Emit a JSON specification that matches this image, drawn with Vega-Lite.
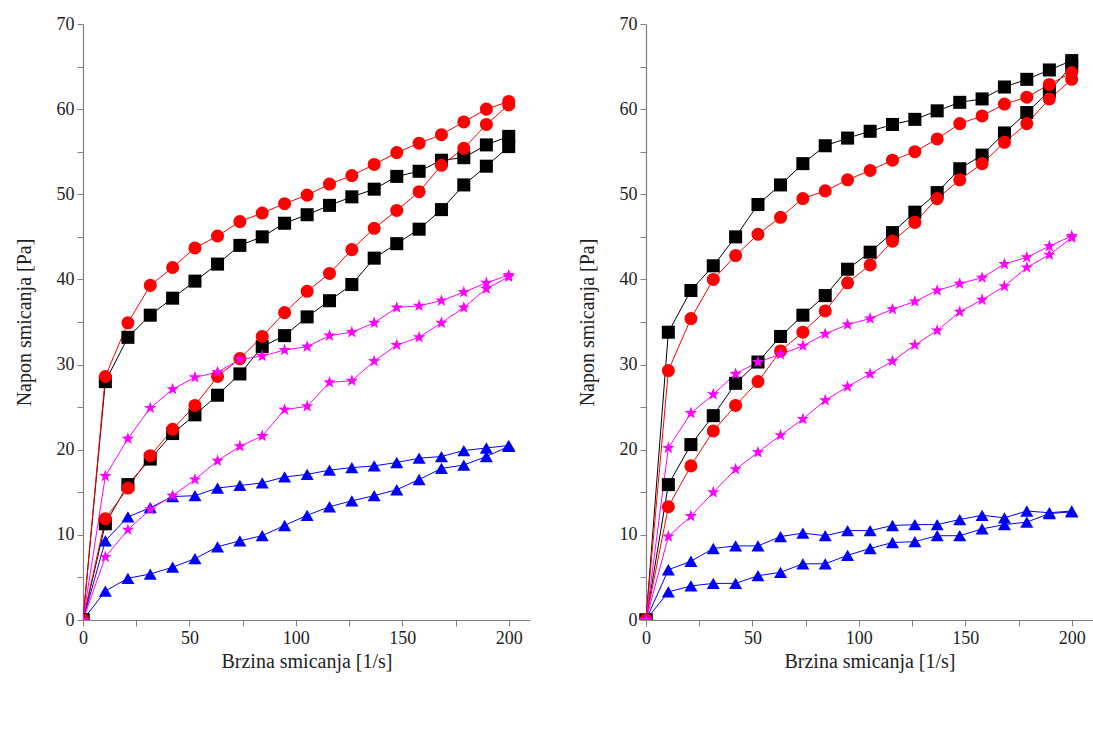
{
  "$schema": "https://vega.github.io/schema/vega-lite/v6.json",
  "autosize": {"type": "none"},
  "width": 1010,
  "height": 596,
  "padding": {"left": 83, "top": 24, "right": 0, "bottom": 109},
  "background": "white",
  "config": {
    "view": {"stroke": null},
    "axis": {"grid": false, "domainColor": "#808080", "tickColor": "#808080", "domainWidth": 1.2, "tickWidth": 1, "tickSize": 6, "labelFont": "Liberation Serif", "titleFont": "Liberation Serif", "labelFontSize": 18, "titleFontSize": 20, "titleFontWeight": "normal", "labelColor": "#222222", "titleColor": "#222222", "labelOverlap": false, "labelFlush": false}
  },
  "datasets": {
    "pa": [
      {"series":"F1","branch":"u","rate":0,"stress":0},{"series":"F1","branch":"u","rate":10.5,"stress":28},{"series":"F1","branch":"u","rate":21.1,"stress":33.2},{"series":"F1","branch":"u","rate":31.6,"stress":35.8},{"series":"F1","branch":"u","rate":42.1,"stress":37.8},{"series":"F1","branch":"u","rate":52.6,"stress":39.8},{"series":"F1","branch":"u","rate":63.2,"stress":41.8},{"series":"F1","branch":"u","rate":73.7,"stress":44},{"series":"F1","branch":"u","rate":84.2,"stress":45},{"series":"F1","branch":"u","rate":94.7,"stress":46.6},{"series":"F1","branch":"u","rate":105.3,"stress":47.6},{"series":"F1","branch":"u","rate":115.8,"stress":48.7},{"series":"F1","branch":"u","rate":126.3,"stress":49.7},{"series":"F1","branch":"u","rate":136.8,"stress":50.6},{"series":"F1","branch":"u","rate":147.4,"stress":52.1},{"series":"F1","branch":"u","rate":157.9,"stress":52.7},{"series":"F1","branch":"u","rate":168.4,"stress":54},{"series":"F1","branch":"u","rate":178.9,"stress":54.3},{"series":"F1","branch":"u","rate":189.5,"stress":55.8},{"series":"F1","branch":"u","rate":200,"stress":56.8},
      {"series":"F1","branch":"d","rate":0,"stress":0},{"series":"F1","branch":"d","rate":10.5,"stress":11.3},{"series":"F1","branch":"d","rate":21.1,"stress":15.9},{"series":"F1","branch":"d","rate":31.6,"stress":18.9},{"series":"F1","branch":"d","rate":42.1,"stress":21.9},{"series":"F1","branch":"d","rate":52.6,"stress":24.1},{"series":"F1","branch":"d","rate":63.2,"stress":26.4},{"series":"F1","branch":"d","rate":73.7,"stress":28.9},{"series":"F1","branch":"d","rate":84.2,"stress":32.1},{"series":"F1","branch":"d","rate":94.7,"stress":33.4},{"series":"F1","branch":"d","rate":105.3,"stress":35.6},{"series":"F1","branch":"d","rate":115.8,"stress":37.5},{"series":"F1","branch":"d","rate":126.3,"stress":39.4},{"series":"F1","branch":"d","rate":136.8,"stress":42.5},{"series":"F1","branch":"d","rate":147.4,"stress":44.2},{"series":"F1","branch":"d","rate":157.9,"stress":45.9},{"series":"F1","branch":"d","rate":168.4,"stress":48.2},{"series":"F1","branch":"d","rate":178.9,"stress":51.1},{"series":"F1","branch":"d","rate":189.5,"stress":53.3},{"series":"F1","branch":"d","rate":200,"stress":55.6},
      {"series":"F7","branch":"u","rate":0,"stress":0},{"series":"F7","branch":"u","rate":10.5,"stress":28.6},{"series":"F7","branch":"u","rate":21.1,"stress":34.9},{"series":"F7","branch":"u","rate":31.6,"stress":39.3},{"series":"F7","branch":"u","rate":42.1,"stress":41.4},{"series":"F7","branch":"u","rate":52.6,"stress":43.7},{"series":"F7","branch":"u","rate":63.2,"stress":45.1},{"series":"F7","branch":"u","rate":73.7,"stress":46.8},{"series":"F7","branch":"u","rate":84.2,"stress":47.8},{"series":"F7","branch":"u","rate":94.7,"stress":48.9},{"series":"F7","branch":"u","rate":105.3,"stress":49.9},{"series":"F7","branch":"u","rate":115.8,"stress":51.2},{"series":"F7","branch":"u","rate":126.3,"stress":52.2},{"series":"F7","branch":"u","rate":136.8,"stress":53.5},{"series":"F7","branch":"u","rate":147.4,"stress":54.9},{"series":"F7","branch":"u","rate":157.9,"stress":56},{"series":"F7","branch":"u","rate":168.4,"stress":57},{"series":"F7","branch":"u","rate":178.9,"stress":58.5},{"series":"F7","branch":"u","rate":189.5,"stress":60},{"series":"F7","branch":"u","rate":200,"stress":60.9},
      {"series":"F7","branch":"d","rate":0,"stress":0},{"series":"F7","branch":"d","rate":10.5,"stress":11.9},{"series":"F7","branch":"d","rate":21.1,"stress":15.5},{"series":"F7","branch":"d","rate":31.6,"stress":19.3},{"series":"F7","branch":"d","rate":42.1,"stress":22.4},{"series":"F7","branch":"d","rate":52.6,"stress":25.2},{"series":"F7","branch":"d","rate":63.2,"stress":28.6},{"series":"F7","branch":"d","rate":73.7,"stress":30.7},{"series":"F7","branch":"d","rate":84.2,"stress":33.3},{"series":"F7","branch":"d","rate":94.7,"stress":36.1},{"series":"F7","branch":"d","rate":105.3,"stress":38.6},{"series":"F7","branch":"d","rate":115.8,"stress":40.7},{"series":"F7","branch":"d","rate":126.3,"stress":43.5},{"series":"F7","branch":"d","rate":136.8,"stress":46},{"series":"F7","branch":"d","rate":147.4,"stress":48.1},{"series":"F7","branch":"d","rate":157.9,"stress":50.3},{"series":"F7","branch":"d","rate":168.4,"stress":53.4},{"series":"F7","branch":"d","rate":178.9,"stress":55.4},{"series":"F7","branch":"d","rate":189.5,"stress":58.2},{"series":"F7","branch":"d","rate":200,"stress":60.5},
      {"series":"F8","branch":"u","rate":0,"stress":0},{"series":"F8","branch":"u","rate":10.5,"stress":9.3},{"series":"F8","branch":"u","rate":21.1,"stress":12.1},{"series":"F8","branch":"u","rate":31.6,"stress":13.2},{"series":"F8","branch":"u","rate":42.1,"stress":14.5},{"series":"F8","branch":"u","rate":52.6,"stress":14.6},{"series":"F8","branch":"u","rate":63.2,"stress":15.5},{"series":"F8","branch":"u","rate":73.7,"stress":15.8},{"series":"F8","branch":"u","rate":84.2,"stress":16.1},{"series":"F8","branch":"u","rate":94.7,"stress":16.8},{"series":"F8","branch":"u","rate":105.3,"stress":17.1},{"series":"F8","branch":"u","rate":115.8,"stress":17.6},{"series":"F8","branch":"u","rate":126.3,"stress":17.9},{"series":"F8","branch":"u","rate":136.8,"stress":18.1},{"series":"F8","branch":"u","rate":147.4,"stress":18.5},{"series":"F8","branch":"u","rate":157.9,"stress":19},{"series":"F8","branch":"u","rate":168.4,"stress":19.2},{"series":"F8","branch":"u","rate":178.9,"stress":19.9},{"series":"F8","branch":"u","rate":189.5,"stress":20.2},{"series":"F8","branch":"u","rate":200,"stress":20.5},
      {"series":"F8","branch":"d","rate":0,"stress":0},{"series":"F8","branch":"d","rate":10.5,"stress":3.4},{"series":"F8","branch":"d","rate":21.1,"stress":4.9},{"series":"F8","branch":"d","rate":31.6,"stress":5.4},{"series":"F8","branch":"d","rate":42.1,"stress":6.2},{"series":"F8","branch":"d","rate":52.6,"stress":7.2},{"series":"F8","branch":"d","rate":63.2,"stress":8.6},{"series":"F8","branch":"d","rate":73.7,"stress":9.3},{"series":"F8","branch":"d","rate":84.2,"stress":9.9},{"series":"F8","branch":"d","rate":94.7,"stress":11.1},{"series":"F8","branch":"d","rate":105.3,"stress":12.3},{"series":"F8","branch":"d","rate":115.8,"stress":13.3},{"series":"F8","branch":"d","rate":126.3,"stress":14},{"series":"F8","branch":"d","rate":136.8,"stress":14.6},{"series":"F8","branch":"d","rate":147.4,"stress":15.3},{"series":"F8","branch":"d","rate":157.9,"stress":16.5},{"series":"F8","branch":"d","rate":168.4,"stress":17.8},{"series":"F8","branch":"d","rate":178.9,"stress":18.2},{"series":"F8","branch":"d","rate":189.5,"stress":19.2},{"series":"F8","branch":"d","rate":200,"stress":20.4},
      {"series":"F9","branch":"u","rate":0,"stress":0},{"series":"F9","branch":"u","rate":10.5,"stress":16.9},{"series":"F9","branch":"u","rate":21.1,"stress":21.3},{"series":"F9","branch":"u","rate":31.6,"stress":24.9},{"series":"F9","branch":"u","rate":42.1,"stress":27.1},{"series":"F9","branch":"u","rate":52.6,"stress":28.5},{"series":"F9","branch":"u","rate":63.2,"stress":29.1},{"series":"F9","branch":"u","rate":73.7,"stress":30.6},{"series":"F9","branch":"u","rate":84.2,"stress":31},{"series":"F9","branch":"u","rate":94.7,"stress":31.7},{"series":"F9","branch":"u","rate":105.3,"stress":32.1},{"series":"F9","branch":"u","rate":115.8,"stress":33.4},{"series":"F9","branch":"u","rate":126.3,"stress":33.8},{"series":"F9","branch":"u","rate":136.8,"stress":34.9},{"series":"F9","branch":"u","rate":147.4,"stress":36.7},{"series":"F9","branch":"u","rate":157.9,"stress":36.9},{"series":"F9","branch":"u","rate":168.4,"stress":37.5},{"series":"F9","branch":"u","rate":178.9,"stress":38.5},{"series":"F9","branch":"u","rate":189.5,"stress":39.6},{"series":"F9","branch":"u","rate":200,"stress":40.5},
      {"series":"F9","branch":"d","rate":0,"stress":0},{"series":"F9","branch":"d","rate":10.5,"stress":7.4},{"series":"F9","branch":"d","rate":21.1,"stress":10.6},{"series":"F9","branch":"d","rate":31.6,"stress":13},{"series":"F9","branch":"d","rate":42.1,"stress":14.6},{"series":"F9","branch":"d","rate":52.6,"stress":16.5},{"series":"F9","branch":"d","rate":63.2,"stress":18.7},{"series":"F9","branch":"d","rate":73.7,"stress":20.4},{"series":"F9","branch":"d","rate":84.2,"stress":21.6},{"series":"F9","branch":"d","rate":94.7,"stress":24.7},{"series":"F9","branch":"d","rate":105.3,"stress":25.1},{"series":"F9","branch":"d","rate":115.8,"stress":27.9},{"series":"F9","branch":"d","rate":126.3,"stress":28.1},{"series":"F9","branch":"d","rate":136.8,"stress":30.4},{"series":"F9","branch":"d","rate":147.4,"stress":32.3},{"series":"F9","branch":"d","rate":157.9,"stress":33.2},{"series":"F9","branch":"d","rate":168.4,"stress":34.9},{"series":"F9","branch":"d","rate":178.9,"stress":36.7},{"series":"F9","branch":"d","rate":189.5,"stress":38.9},{"series":"F9","branch":"d","rate":200,"stress":40.3}
    ],
    "pb": [
      {"series":"F1","branch":"u","rate":0,"stress":0},{"series":"F1","branch":"u","rate":10.5,"stress":33.8},{"series":"F1","branch":"u","rate":21.1,"stress":38.7},{"series":"F1","branch":"u","rate":31.6,"stress":41.6},{"series":"F1","branch":"u","rate":42.1,"stress":45},{"series":"F1","branch":"u","rate":52.6,"stress":48.8},{"series":"F1","branch":"u","rate":63.2,"stress":51.1},{"series":"F1","branch":"u","rate":73.7,"stress":53.6},{"series":"F1","branch":"u","rate":84.2,"stress":55.7},{"series":"F1","branch":"u","rate":94.7,"stress":56.6},{"series":"F1","branch":"u","rate":105.3,"stress":57.4},{"series":"F1","branch":"u","rate":115.8,"stress":58.2},{"series":"F1","branch":"u","rate":126.3,"stress":58.8},{"series":"F1","branch":"u","rate":136.8,"stress":59.8},{"series":"F1","branch":"u","rate":147.4,"stress":60.8},{"series":"F1","branch":"u","rate":157.9,"stress":61.2},{"series":"F1","branch":"u","rate":168.4,"stress":62.6},{"series":"F1","branch":"u","rate":178.9,"stress":63.5},{"series":"F1","branch":"u","rate":189.5,"stress":64.6},{"series":"F1","branch":"u","rate":200,"stress":65.7},
      {"series":"F1","branch":"d","rate":0,"stress":0},{"series":"F1","branch":"d","rate":10.5,"stress":15.9},{"series":"F1","branch":"d","rate":21.1,"stress":20.6},{"series":"F1","branch":"d","rate":31.6,"stress":24},{"series":"F1","branch":"d","rate":42.1,"stress":27.8},{"series":"F1","branch":"d","rate":52.6,"stress":30.3},{"series":"F1","branch":"d","rate":63.2,"stress":33.3},{"series":"F1","branch":"d","rate":73.7,"stress":35.8},{"series":"F1","branch":"d","rate":84.2,"stress":38.1},{"series":"F1","branch":"d","rate":94.7,"stress":41.2},{"series":"F1","branch":"d","rate":105.3,"stress":43.2},{"series":"F1","branch":"d","rate":115.8,"stress":45.5},{"series":"F1","branch":"d","rate":126.3,"stress":47.9},{"series":"F1","branch":"d","rate":136.8,"stress":50.2},{"series":"F1","branch":"d","rate":147.4,"stress":53},{"series":"F1","branch":"d","rate":157.9,"stress":54.6},{"series":"F1","branch":"d","rate":168.4,"stress":57.2},{"series":"F1","branch":"d","rate":178.9,"stress":59.6},{"series":"F1","branch":"d","rate":189.5,"stress":62.1},{"series":"F1","branch":"d","rate":200,"stress":65.1},
      {"series":"F7","branch":"u","rate":0,"stress":0},{"series":"F7","branch":"u","rate":10.5,"stress":29.3},{"series":"F7","branch":"u","rate":21.1,"stress":35.4},{"series":"F7","branch":"u","rate":31.6,"stress":40},{"series":"F7","branch":"u","rate":42.1,"stress":42.8},{"series":"F7","branch":"u","rate":52.6,"stress":45.3},{"series":"F7","branch":"u","rate":63.2,"stress":47.3},{"series":"F7","branch":"u","rate":73.7,"stress":49.5},{"series":"F7","branch":"u","rate":84.2,"stress":50.4},{"series":"F7","branch":"u","rate":94.7,"stress":51.7},{"series":"F7","branch":"u","rate":105.3,"stress":52.8},{"series":"F7","branch":"u","rate":115.8,"stress":54},{"series":"F7","branch":"u","rate":126.3,"stress":55},{"series":"F7","branch":"u","rate":136.8,"stress":56.5},{"series":"F7","branch":"u","rate":147.4,"stress":58.3},{"series":"F7","branch":"u","rate":157.9,"stress":59.2},{"series":"F7","branch":"u","rate":168.4,"stress":60.6},{"series":"F7","branch":"u","rate":178.9,"stress":61.4},{"series":"F7","branch":"u","rate":189.5,"stress":62.9},{"series":"F7","branch":"u","rate":200,"stress":64.3},
      {"series":"F7","branch":"d","rate":0,"stress":0},{"series":"F7","branch":"d","rate":10.5,"stress":13.3},{"series":"F7","branch":"d","rate":21.1,"stress":18.1},{"series":"F7","branch":"d","rate":31.6,"stress":22.2},{"series":"F7","branch":"d","rate":42.1,"stress":25.2},{"series":"F7","branch":"d","rate":52.6,"stress":28},{"series":"F7","branch":"d","rate":63.2,"stress":31.6},{"series":"F7","branch":"d","rate":73.7,"stress":33.8},{"series":"F7","branch":"d","rate":84.2,"stress":36.3},{"series":"F7","branch":"d","rate":94.7,"stress":39.6},{"series":"F7","branch":"d","rate":105.3,"stress":41.7},{"series":"F7","branch":"d","rate":115.8,"stress":44.5},{"series":"F7","branch":"d","rate":126.3,"stress":46.7},{"series":"F7","branch":"d","rate":136.8,"stress":49.5},{"series":"F7","branch":"d","rate":147.4,"stress":51.7},{"series":"F7","branch":"d","rate":157.9,"stress":53.6},{"series":"F7","branch":"d","rate":168.4,"stress":56.1},{"series":"F7","branch":"d","rate":178.9,"stress":58.3},{"series":"F7","branch":"d","rate":189.5,"stress":61.2},{"series":"F7","branch":"d","rate":200,"stress":63.5},
      {"series":"F8","branch":"u","rate":0,"stress":0},{"series":"F8","branch":"u","rate":10.5,"stress":5.9},{"series":"F8","branch":"u","rate":21.1,"stress":6.9},{"series":"F8","branch":"u","rate":31.6,"stress":8.4},{"series":"F8","branch":"u","rate":42.1,"stress":8.7},{"series":"F8","branch":"u","rate":52.6,"stress":8.7},{"series":"F8","branch":"u","rate":63.2,"stress":9.8},{"series":"F8","branch":"u","rate":73.7,"stress":10.2},{"series":"F8","branch":"u","rate":84.2,"stress":9.9},{"series":"F8","branch":"u","rate":94.7,"stress":10.5},{"series":"F8","branch":"u","rate":105.3,"stress":10.5},{"series":"F8","branch":"u","rate":115.8,"stress":11.1},{"series":"F8","branch":"u","rate":126.3,"stress":11.2},{"series":"F8","branch":"u","rate":136.8,"stress":11.2},{"series":"F8","branch":"u","rate":147.4,"stress":11.8},{"series":"F8","branch":"u","rate":157.9,"stress":12.3},{"series":"F8","branch":"u","rate":168.4,"stress":12},{"series":"F8","branch":"u","rate":178.9,"stress":12.8},{"series":"F8","branch":"u","rate":189.5,"stress":12.6},{"series":"F8","branch":"u","rate":200,"stress":12.8},
      {"series":"F8","branch":"d","rate":0,"stress":0},{"series":"F8","branch":"d","rate":10.5,"stress":3.3},{"series":"F8","branch":"d","rate":21.1,"stress":4},{"series":"F8","branch":"d","rate":31.6,"stress":4.3},{"series":"F8","branch":"d","rate":42.1,"stress":4.3},{"series":"F8","branch":"d","rate":52.6,"stress":5.2},{"series":"F8","branch":"d","rate":63.2,"stress":5.6},{"series":"F8","branch":"d","rate":73.7,"stress":6.6},{"series":"F8","branch":"d","rate":84.2,"stress":6.6},{"series":"F8","branch":"d","rate":94.7,"stress":7.6},{"series":"F8","branch":"d","rate":105.3,"stress":8.4},{"series":"F8","branch":"d","rate":115.8,"stress":9.1},{"series":"F8","branch":"d","rate":126.3,"stress":9.2},{"series":"F8","branch":"d","rate":136.8,"stress":9.9},{"series":"F8","branch":"d","rate":147.4,"stress":9.9},{"series":"F8","branch":"d","rate":157.9,"stress":10.7},{"series":"F8","branch":"d","rate":168.4,"stress":11.2},{"series":"F8","branch":"d","rate":178.9,"stress":11.5},{"series":"F8","branch":"d","rate":189.5,"stress":12.5},{"series":"F8","branch":"d","rate":200,"stress":12.7},
      {"series":"F9","branch":"u","rate":0,"stress":0},{"series":"F9","branch":"u","rate":10.5,"stress":20.2},{"series":"F9","branch":"u","rate":21.1,"stress":24.3},{"series":"F9","branch":"u","rate":31.6,"stress":26.5},{"series":"F9","branch":"u","rate":42.1,"stress":28.9},{"series":"F9","branch":"u","rate":52.6,"stress":30.3},{"series":"F9","branch":"u","rate":63.2,"stress":31.2},{"series":"F9","branch":"u","rate":73.7,"stress":32.2},{"series":"F9","branch":"u","rate":84.2,"stress":33.6},{"series":"F9","branch":"u","rate":94.7,"stress":34.7},{"series":"F9","branch":"u","rate":105.3,"stress":35.4},{"series":"F9","branch":"u","rate":115.8,"stress":36.5},{"series":"F9","branch":"u","rate":126.3,"stress":37.4},{"series":"F9","branch":"u","rate":136.8,"stress":38.7},{"series":"F9","branch":"u","rate":147.4,"stress":39.5},{"series":"F9","branch":"u","rate":157.9,"stress":40.2},{"series":"F9","branch":"u","rate":168.4,"stress":41.8},{"series":"F9","branch":"u","rate":178.9,"stress":42.6},{"series":"F9","branch":"u","rate":189.5,"stress":43.9},{"series":"F9","branch":"u","rate":200,"stress":45.1},
      {"series":"F9","branch":"d","rate":0,"stress":0},{"series":"F9","branch":"d","rate":10.5,"stress":9.8},{"series":"F9","branch":"d","rate":21.1,"stress":12.2},{"series":"F9","branch":"d","rate":31.6,"stress":15},{"series":"F9","branch":"d","rate":42.1,"stress":17.7},{"series":"F9","branch":"d","rate":52.6,"stress":19.7},{"series":"F9","branch":"d","rate":63.2,"stress":21.7},{"series":"F9","branch":"d","rate":73.7,"stress":23.6},{"series":"F9","branch":"d","rate":84.2,"stress":25.8},{"series":"F9","branch":"d","rate":94.7,"stress":27.4},{"series":"F9","branch":"d","rate":105.3,"stress":28.9},{"series":"F9","branch":"d","rate":115.8,"stress":30.4},{"series":"F9","branch":"d","rate":126.3,"stress":32.3},{"series":"F9","branch":"d","rate":136.8,"stress":34},{"series":"F9","branch":"d","rate":147.4,"stress":36.2},{"series":"F9","branch":"d","rate":157.9,"stress":37.6},{"series":"F9","branch":"d","rate":168.4,"stress":39.2},{"series":"F9","branch":"d","rate":178.9,"stress":41.4},{"series":"F9","branch":"d","rate":189.5,"stress":42.9},{"series":"F9","branch":"d","rate":200,"stress":44.9}
    ]
  },
  "layer": [
    {
      "data": {"name": "pa"},
      "encoding": {
        "x": {"field": "rate", "type": "quantitative", "scale": {"domain": [0, 210], "range": [0, 447], "nice": false, "zero": false},
          "axis": {"orient": "bottom", "title": "Brzina smicanja [1/s]", "values": [0,25,50,75,100,125,150,175,200], "labelExpr": "datum.value % 50 === 0 ? datum.label : ''", "labelPadding": 3, "titlePadding": 4}},
        "y": {"field": "stress", "type": "quantitative", "scale": {"domain": [0, 70], "nice": false},
          "axis": {"orient": "left", "title": "Napon smicanja [Pa]", "values": [0,5,10,15,20,25,30,35,40,45,50,55,60,65,70], "labelExpr": "datum.value % 10 === 0 ? datum.label : ''", "labelPadding": 3, "titlePadding": 22}}
      },
      "layer": [
        {"mark": {"type": "line", "strokeWidth": 1, "clip": true},
         "encoding": {
           "color": {"field": "series", "type": "nominal", "scale": {"domain": ["F1","F7","F8","F9"], "range": ["#000000","#FF0000","#0000FF","#FF00FF"]}, "legend": null},
           "detail": {"field": "branch", "type": "nominal"}, "order": {"field": "rate", "type": "quantitative"}}},
        {"mark": {"type": "point", "filled": true, "size": 170, "opacity": 1, "strokeWidth": 0, "clip": true},
         "encoding": {
           "color": {"field": "series", "type": "nominal", "scale": {"domain": ["F1","F7","F8","F9"], "range": ["#000000","#FF0000","#0000FF","#FF00FF"]},
             "legend": {"title": "a)", "orient": "none", "legendX": -66, "legendY": 665, "direction": "horizontal", "titleOrient": "left", "titleAnchor": "middle", "titleBaseline": "middle", "titleFontSize": 28, "titleFont": "Liberation Serif", "titleFontWeight": "normal", "titleColor": "#222222", "titlePadding": 98, "labelFontSize": 18, "labelFont": "Liberation Serif", "labelColor": "#222222", "labelOffset": 3, "columnPadding": 10, "symbolSize": 2116, "symbolStrokeWidth": 0, "padding": 0,
               "encode": {"symbols": {"update": {"size": {"value": 2116}, "shape": {"signal": "datum.value === 'F1' ? 'M-1,-0.025H1V0.025H-1Z M-0.18,-0.18H0.18V0.18H-0.18Z' : datum.value === 'F7' ? 'M-1,-0.025H1V0.025H-1Z M-0.2,0A0.2,0.2 0 1,0 0.2,0A0.2,0.2 0 1,0 -0.2,0Z' : datum.value === 'F8' ? 'M-1,-0.025H1V0.025H-1Z M0,-0.22L0.24,0.18H-0.24Z' : 'M-1,-0.025H1V0.025H-1Z M0,-0.24L0.056,-0.078L0.228,-0.074L0.091,0.03L0.141,0.194L0,0.096L-0.141,0.194L-0.091,0.03L-0.228,-0.074L-0.056,-0.078Z'"}}}}}},
           "shape": {"field": "series", "type": "nominal", "scale": {"domain": ["F1","F7","F8","F9"], "range": ["square","circle","triangle-up","M0,-1L0.235,-0.324L0.951,-0.309L0.38,0.124L0.588,0.809L0,0.4L-0.588,0.809L-0.38,0.124L-0.951,-0.309L-0.235,-0.324Z"]},
             "legend": {"title": "a)", "orient": "none", "legendX": -66, "legendY": 665, "direction": "horizontal", "titleOrient": "left", "titleAnchor": "middle", "titleBaseline": "middle", "titleFontSize": 28, "titleFont": "Liberation Serif", "titleFontWeight": "normal", "titleColor": "#222222", "titlePadding": 98, "labelFontSize": 18, "labelFont": "Liberation Serif", "labelColor": "#222222", "labelOffset": 3, "columnPadding": 10, "symbolSize": 2116, "symbolStrokeWidth": 0, "padding": 0,
               "encode": {"symbols": {"update": {"size": {"value": 2116}, "shape": {"signal": "datum.value === 'F1' ? 'M-1,-0.025H1V0.025H-1Z M-0.18,-0.18H0.18V0.18H-0.18Z' : datum.value === 'F7' ? 'M-1,-0.025H1V0.025H-1Z M-0.2,0A0.2,0.2 0 1,0 0.2,0A0.2,0.2 0 1,0 -0.2,0Z' : datum.value === 'F8' ? 'M-1,-0.025H1V0.025H-1Z M0,-0.22L0.24,0.18H-0.24Z' : 'M-1,-0.025H1V0.025H-1Z M0,-0.24L0.056,-0.078L0.228,-0.074L0.091,0.03L0.141,0.194L0,0.096L-0.141,0.194L-0.091,0.03L-0.228,-0.074L-0.056,-0.078Z'"}}}}}}}}
      ]
    },
    {
      "data": {"name": "pb"},
      "encoding": {
        "x": {"field": "rate", "type": "quantitative", "scale": {"domain": [0, 210], "range": [563, 1010], "nice": false, "zero": false},
          "axis": {"orient": "bottom", "title": "Brzina smicanja [1/s]", "values": [0,25,50,75,100,125,150,175,200], "labelExpr": "datum.value % 50 === 0 ? datum.label : ''", "labelPadding": 3, "titlePadding": 4}},
        "y": {"field": "stress", "type": "quantitative", "scale": {"domain": [0, 70], "nice": false},
          "axis": {"orient": "left", "offset": -563, "title": "Napon smicanja [Pa]", "values": [0,5,10,15,20,25,30,35,40,45,50,55,60,65,70], "labelExpr": "datum.value % 10 === 0 ? datum.label : ''", "labelPadding": 3, "titlePadding": 22}}
      },
      "layer": [
        {"mark": {"type": "line", "strokeWidth": 1, "clip": true},
         "encoding": {
           "color": {"field": "series", "type": "nominal", "scale": {"domain": ["F1","F7","F8","F9"], "range": ["#000000","#FF0000","#0000FF","#FF00FF"]}, "legend": null},
           "detail": {"field": "branch", "type": "nominal"}, "order": {"field": "rate", "type": "quantitative"}}},
        {"mark": {"type": "point", "filled": true, "size": 170, "opacity": 1, "strokeWidth": 0, "clip": true},
         "encoding": {
           "color": {"field": "series", "type": "nominal", "scale": {"domain": ["F1","F7","F8","F9"], "range": ["#000000","#FF0000","#0000FF","#FF00FF"]},
             "legend": {"title": "b)", "orient": "none", "legendX": 512, "legendY": 665, "direction": "horizontal", "titleOrient": "left", "titleAnchor": "middle", "titleBaseline": "middle", "titleFontSize": 28, "titleFont": "Liberation Serif", "titleFontWeight": "normal", "titleColor": "#222222", "titlePadding": 86, "labelFontSize": 18, "labelFont": "Liberation Serif", "labelColor": "#222222", "labelOffset": 3, "columnPadding": 10, "symbolSize": 2116, "symbolStrokeWidth": 0, "padding": 0,
               "encode": {"symbols": {"update": {"size": {"value": 2116}, "shape": {"signal": "datum.value === 'F1' ? 'M-1,-0.025H1V0.025H-1Z M-0.18,-0.18H0.18V0.18H-0.18Z' : datum.value === 'F7' ? 'M-1,-0.025H1V0.025H-1Z M-0.2,0A0.2,0.2 0 1,0 0.2,0A0.2,0.2 0 1,0 -0.2,0Z' : datum.value === 'F8' ? 'M-1,-0.025H1V0.025H-1Z M0,-0.22L0.24,0.18H-0.24Z' : 'M-1,-0.025H1V0.025H-1Z M0,-0.24L0.056,-0.078L0.228,-0.074L0.091,0.03L0.141,0.194L0,0.096L-0.141,0.194L-0.091,0.03L-0.228,-0.074L-0.056,-0.078Z'"}}}}}},
           "shape": {"field": "series", "type": "nominal", "scale": {"domain": ["F1","F7","F8","F9"], "range": ["square","circle","triangle-up","M0,-1L0.235,-0.324L0.951,-0.309L0.38,0.124L0.588,0.809L0,0.4L-0.588,0.809L-0.38,0.124L-0.951,-0.309L-0.235,-0.324Z"]},
             "legend": {"title": "b)", "orient": "none", "legendX": 512, "legendY": 665, "direction": "horizontal", "titleOrient": "left", "titleAnchor": "middle", "titleBaseline": "middle", "titleFontSize": 28, "titleFont": "Liberation Serif", "titleFontWeight": "normal", "titleColor": "#222222", "titlePadding": 86, "labelFontSize": 18, "labelFont": "Liberation Serif", "labelColor": "#222222", "labelOffset": 3, "columnPadding": 10, "symbolSize": 2116, "symbolStrokeWidth": 0, "padding": 0,
               "encode": {"symbols": {"update": {"size": {"value": 2116}, "shape": {"signal": "datum.value === 'F1' ? 'M-1,-0.025H1V0.025H-1Z M-0.18,-0.18H0.18V0.18H-0.18Z' : datum.value === 'F7' ? 'M-1,-0.025H1V0.025H-1Z M-0.2,0A0.2,0.2 0 1,0 0.2,0A0.2,0.2 0 1,0 -0.2,0Z' : datum.value === 'F8' ? 'M-1,-0.025H1V0.025H-1Z M0,-0.22L0.24,0.18H-0.24Z' : 'M-1,-0.025H1V0.025H-1Z M0,-0.24L0.056,-0.078L0.228,-0.074L0.091,0.03L0.141,0.194L0,0.096L-0.141,0.194L-0.091,0.03L-0.228,-0.074L-0.056,-0.078Z'"}}}}}}}}
      ]
    }
  ],
  "resolve": {"scale": {"x": "independent", "y": "independent", "color": "independent", "shape": "independent"}, "axis": {"x": "independent", "y": "independent"}, "legend": {"color": "independent", "shape": "independent"}}
}
